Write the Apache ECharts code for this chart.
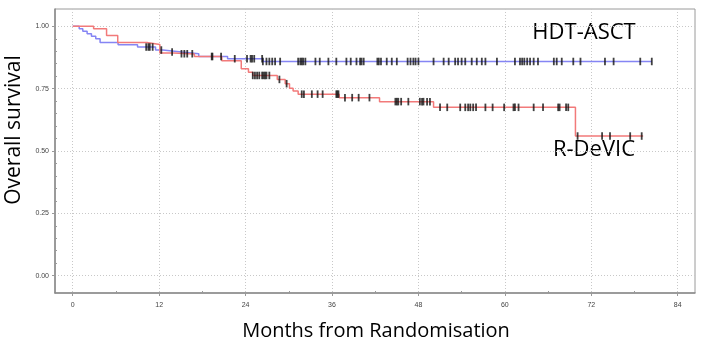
<!DOCTYPE html>
<html>
<head>
<meta charset="utf-8">
<script src="https://cdn.jsdelivr.net/npm/echarts@6/dist/echarts.min.js"></script>
<style>
  html, body { margin: 0; padding: 0; background: #fff; }
  #chart { width: 703px; height: 341px; }
</style>
</head>
<body>
<div id="chart"></div>
<script>
// Kaplan-Meier step points [month, survival probability]
const hdtSteps = [
  [0, 1.0], [0.9, 0.99], [1.4, 0.98], [2.0, 0.97], [2.6, 0.96], [3.2, 0.95],
  [3.8, 0.935], [6.3, 0.926], [9.0, 0.917], [11.5, 0.905], [12.5, 0.897],
  [15.1, 0.89], [17.5, 0.879], [21.5, 0.870], [26.4, 0.859]
];
const hdtLastMonth = 80.4;

const devicSteps = [
  [0, 1.0], [2.9, 0.99], [4.7, 0.963], [6.25, 0.935], [10.3, 0.927],
  [12.1, 0.893], [14.0, 0.889], [16.9, 0.879], [20.7, 0.862], [23.4, 0.830],
  [24.4, 0.816], [25.0, 0.803], [28.4, 0.787], [29.5, 0.770], [30.1, 0.752],
  [30.6, 0.741], [31.3, 0.728], [37.0, 0.714], [42.6, 0.698], [50.1, 0.675],
  [69.8, 0.56]
];
const devicLastMonth = 79.2;

// Censoring times (months)
const hdtCensored = [
  10.2, 10.5, 10.7, 11.1, 12.3, 13.8, 15.1, 15.5, 15.9, 16.6, 19.4, 22.5,
  24.2, 24.7, 24.9, 25.2, 26.3, 26.4, 26.9, 27.3, 27.7, 28.1, 28.8,
  31.3, 31.6, 31.8, 32.0, 32.3, 33.7, 34.3, 35.5, 36.6, 38.0, 38.6,
  39.4, 39.9, 40.1, 40.4, 42.3, 42.5, 42.8, 43.6, 44.3, 45.0,
  46.5, 46.9, 47.3, 47.6, 48.0, 50.1, 51.5, 52.2, 53.1, 53.5, 54.0, 54.5,
  55.4, 56.1, 56.8, 57.3, 58.9, 61.4, 62.1, 62.4, 62.7, 63.1, 63.5, 64.0,
  64.6, 66.8, 67.2, 67.9, 69.5, 70.5, 73.9, 75.1, 78.8, 80.4
];
const devicCensored = [
  19.3, 20.6, 25.0, 25.3, 25.6, 25.9, 26.3, 26.5, 26.7, 26.9, 27.3,
  28.7, 29.7, 31.8, 32.1, 33.2, 34.0, 34.7, 36.6, 36.75, 36.9,
  37.8, 38.8, 39.7, 41.2, 44.8, 45.0, 45.2, 45.6, 46.6, 48.2, 48.5, 48.7,
  49.2, 49.6, 51.0, 52.0, 53.8, 54.5, 54.9, 55.2, 55.6, 56.0, 57.3, 58.3,
  59.9, 61.2, 61.4, 61.9, 64.0, 65.3, 67.4, 67.6, 68.5, 68.8,
  70.1, 73.5, 74.6, 77.4, 79.0
];

// Axis ticks
const xTickValues = [0, 12, 24, 36, 48, 60, 72, 84];
const xMinorTickValues = [6, 18, 30, 42, 54, 66, 78];
const yTickValues = [0, 0.25, 0.5, 0.75, 1.0];
const yMinorTickValues = [0.05, 0.1, 0.15, 0.2, 0.3, 0.35, 0.4, 0.45, 0.55, 0.6, 0.65, 0.7, 0.8, 0.85, 0.9, 0.95];

const xRange = [-2.46, 86.4];
const yRange = [-0.0695, 1.0695];

const blueColor = '#8585f4';
const redColor = '#f27a7a';

function stepLine(steps, lastMonth) {
  const pts = steps.map(p => [p[0], p[1]]);
  pts.push([lastMonth, steps[steps.length - 1][1]]);
  return pts;
}
function survivalAt(steps, t) {
  let s = steps[0][1];
  for (const p of steps) { if (p[0] <= t) s = p[1]; }
  return s;
}
function censorMarks(steps, times) {
  return times.map(t => [t, survivalAt(steps, t)]);
}

const gridLine = { show: true, lineStyle: { color: '#c8c8c8', type: [1, 2], width: 1 } };
const tickStyle = { color: '#999', width: 1 };

// Tick-only axis sharing the main axis range (used for minor ticks)
function minorAxis(range, values) {
  return {
    type: 'value', min: range[0], max: range[1],
    axisLine: { show: false, onZero: false },
    axisTick: { show: true, inside: true, customValues: values, length: 2, lineStyle: tickStyle },
    axisLabel: { show: false },
    splitLine: { show: false }
  };
}

const chart = echarts.init(document.getElementById('chart'), null, { renderer: 'canvas' });
chart.setOption({
  backgroundColor: '#fff',
  animation: false,
  grid: { left: 55, top: 9, right: 8, bottom: 48, show: true, borderColor: '#9a9a9a', borderWidth: 1 },
  xAxis: [{
    type: 'value', min: xRange[0], max: xRange[1], position: 'bottom',
    axisLine: { show: true, onZero: false, lineStyle: { color: '#8a8a8a', width: 1.5 } },
    axisTick: { show: true, customValues: xTickValues, length: 3, lineStyle: tickStyle },
    axisLabel: { customValues: xTickValues, fontSize: 7, color: '#444', margin: 9, fontFamily: 'Liberation Sans' },
    splitLine: gridLine
  }, Object.assign(minorAxis(xRange, xMinorTickValues), { position: 'bottom' })],
  yAxis: [{
    type: 'value', min: yRange[0], max: yRange[1], position: 'left',
    axisLine: { show: true, onZero: false, lineStyle: { color: '#8a8a8a', width: 1.5 } },
    axisTick: { show: true, customValues: yTickValues, length: 3, lineStyle: tickStyle },
    axisLabel: { customValues: yTickValues, fontSize: 7, color: '#444', margin: 6, fontFamily: 'Liberation Sans',
      formatter: v => v.toFixed(2) },
    splitLine: gridLine
  }, Object.assign(minorAxis(yRange, yMinorTickValues), { position: 'left' })],
  series: [
    { type: 'line', step: 'end', data: stepLine(hdtSteps, hdtLastMonth), showSymbol: false,
      itemStyle: { color: blueColor }, lineStyle: { color: blueColor, width: 1.5 }, z: 3 },
    { type: 'line', step: 'end', data: stepLine(devicSteps, devicLastMonth), showSymbol: false,
      itemStyle: { color: redColor }, lineStyle: { color: redColor, width: 1.5 }, z: 3 },
    { type: 'scatter', data: censorMarks(hdtSteps, hdtCensored), symbol: 'rect', symbolSize: [1.8, 7.5],
      itemStyle: { color: '#111' }, z: 4 },
    { type: 'scatter', data: censorMarks(devicSteps, devicCensored), symbol: 'rect', symbolSize: [1.8, 7.5],
      itemStyle: { color: '#111' }, z: 4 }
  ],
  graphic: [
    { type: 'text', x: 14, y: 130, rotation: Math.PI / 2,
      style: { text: 'Overall survival', fontSize: 21, fontFamily: 'Open Sans', fill: '#000', align: 'center', verticalAlign: 'middle' } },
    { type: 'text', x: 376, y: 331,
      style: { text: 'Months from Randomisation', fontSize: 20, fontFamily: 'Open Sans', fill: '#000', align: 'center', verticalAlign: 'middle' } },
    { type: 'text', x: 584, y: 33,
      style: { text: 'HDT-ASCT', fontSize: 22, fontFamily: 'Open Sans', fill: '#000', align: 'center', verticalAlign: 'middle' } },
    { type: 'text', x: 594, y: 150,
      style: { text: 'R-DeVIC', fontSize: 22, fontFamily: 'Open Sans', fill: '#000', align: 'center', verticalAlign: 'middle' } }
  ]
});
</script>
</body>
</html>
